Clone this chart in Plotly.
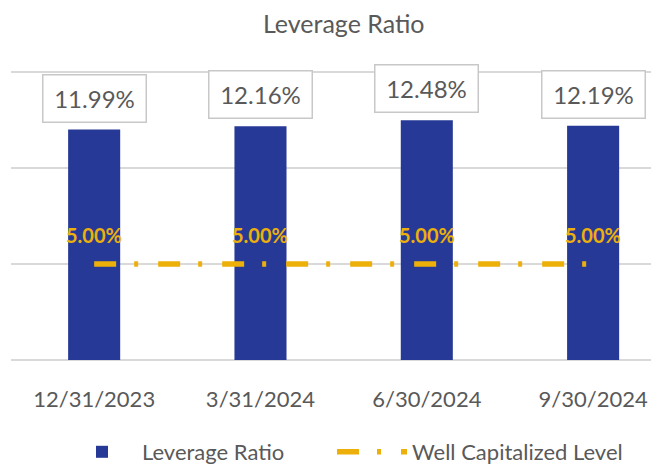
import plotly.graph_objects as go

categories = ["12/31/2023", "3/31/2024", "6/30/2024", "9/30/2024"]
leverage_ratio = [11.99, 12.16, 12.48, 12.19]
well_capitalized = [5.00, 5.00, 5.00, 5.00]

FONT = "Lato, 'Noto Sans', sans-serif"
GREY = "#595959"
NAVY = "#263996"
GOLD = "#EDB00A"

fig = go.Figure()
fig.add_trace(go.Bar(
    x=categories, y=leverage_ratio, name="Leverage Ratio",
    marker=dict(color=NAVY, line=dict(width=0)), width=0.313,
    legendwidth=185,
))
fig.add_trace(go.Scatter(
    x=categories, y=well_capitalized, name="Well Capitalized Level",
    mode="lines", line=dict(color=GOLD, width=5.5, dash="22px,18px,4px,20px"),
    legendwidth=235,
))

for c, v in zip(categories, well_capitalized):
    fig.add_annotation(
        x=c, y=v, xref="x", yref="y", text=f"<b>{v:.2f}%</b>", showarrow=False,
        yanchor="middle", yshift=29,
        font=dict(family=FONT, size=20, color=GOLD),
    )

for c, v in zip(categories, leverage_ratio):
    fig.add_annotation(
        x=c, y=v, xref="x", yref="y", text=f"{v:.2f}%", showarrow=False,
        yanchor="bottom", yshift=7, width=98, height=42, borderpad=2,
        bordercolor="#c8c8c8", borderwidth=1.5, bgcolor="white",
        font=dict(family=FONT, size=24, color=GREY),
    )

fig.update_layout(
    width=651, height=466,
    margin=dict(l=11, r=0, t=66, b=106, autoexpand=False),
    paper_bgcolor="white", plot_bgcolor="white",
    title=dict(text="Leverage Ratio", x=0.528, xanchor="center", xref="container",
               y=1 - 24 / 466, yanchor="middle",
               font=dict(family=FONT, size=25, color=GREY)),
    showlegend=True,
    legend=dict(orientation="h", xref="container", x=62 / 651, xanchor="left",
                yref="container", y=1 - 452 / 466, yanchor="middle",
                itemwidth=70,
                font=dict(family=FONT, size=22, color=GREY)),
)
fig.update_xaxes(
    range=[-0.5, 3.348], showgrid=False, showline=False, automargin=False,
    ticks="outside", ticklen=20, tickcolor="rgba(0,0,0,0)",
    tickfont=dict(family=FONT, size=22, color=GREY),
)
fig.update_yaxes(
    range=[0, 15.3], tickvals=[0, 5, 10, 15], showgrid=True, gridcolor="#d9d9d9", gridwidth=1.5,
    zeroline=True, zerolinecolor="#d9d9d9", zerolinewidth=1.5,
    showticklabels=False, showline=False, automargin=False,
)

fig.write_html("out.html", config={"displayModeBar": False},
               post_script="document.body.style.margin='0';")
